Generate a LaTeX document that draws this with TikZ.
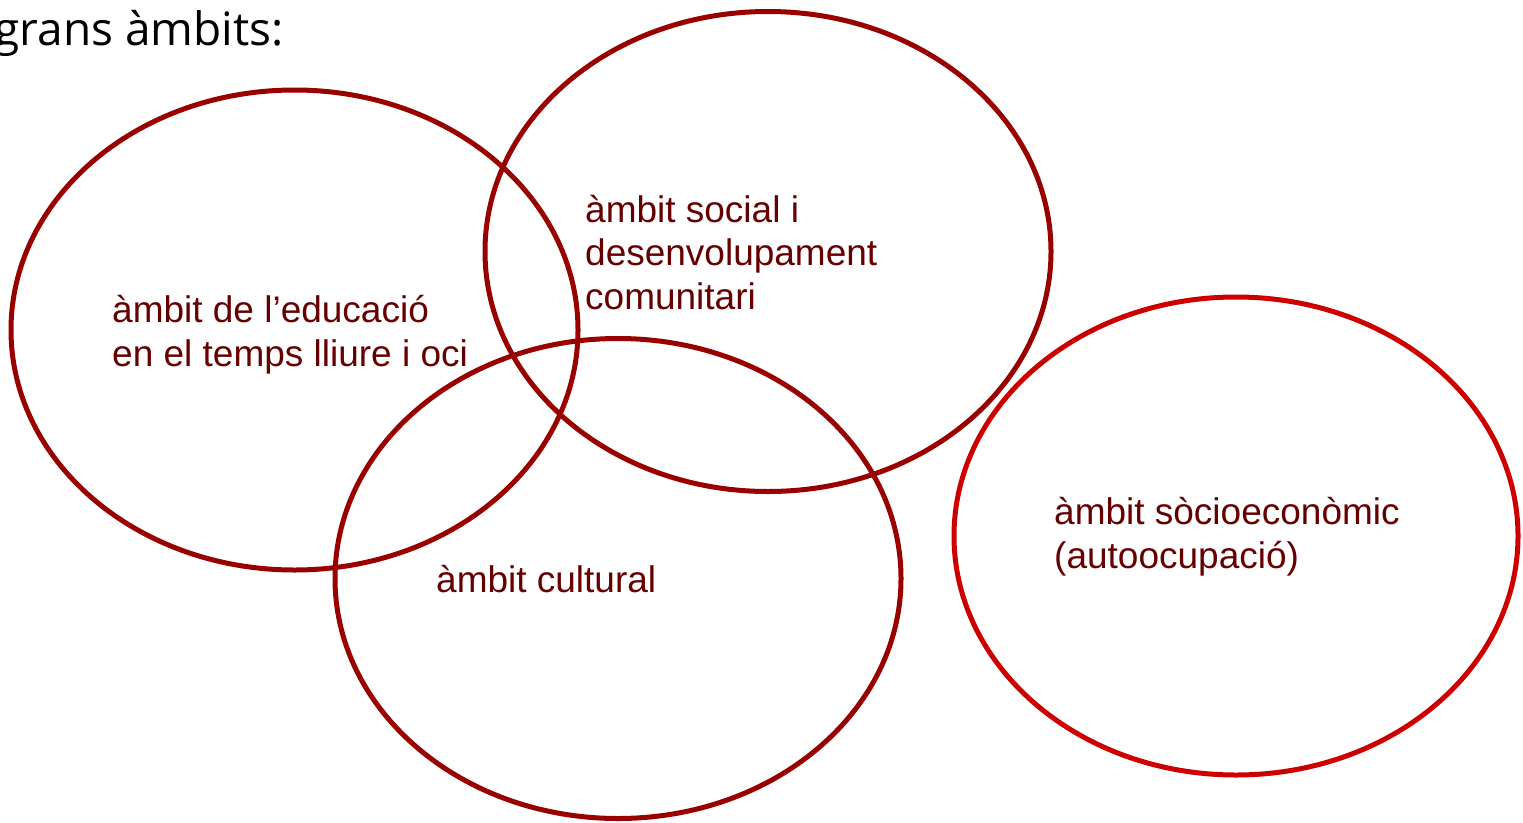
\documentclass[tikz,border=0pt]{standalone}
\usepackage{fontspec}
\setmainfont{Liberation Sans}
\newfontfamily\titlefont{Open Sans}
\definecolor{ringdark}{HTML}{990000}
\definecolor{ringbright}{HTML}{CC0000}
\definecolor{labeltext}{HTML}{660000}
\begin{document}
\begin{tikzpicture}[x=1pt,y=-1pt,
  ring/.style={line width=5pt,draw=ringdark},
  ringb/.style={line width=5pt,draw=ringbright},
  lbl/.style={text=labeltext,font=\fontsize{37}{43.5}\selectfont,align=left,inner sep=0pt,anchor=base west}]
\useasboundingbox (0,0) rectangle (1523,822);
\node[font=\titlefont\fontsize{46}{55}\selectfont,anchor=base east,inner sep=0pt] (title) at (284,45) {grans àmbits:};
\draw[ring] (294.5,330) ellipse [x radius=283.5,y radius=240];
\draw[ring] (768,251.5) ellipse [x radius=283,y radius=240];
\draw[ring] (618,578.5) ellipse [x radius=283,y radius=240];
\draw[ringb] (1236,536) ellipse [x radius=282,y radius=239];
\node[lbl] (educ) at (112,366) {àmbit de l’educació\\en el temps lliure i oci};
\node[lbl] (social) at (585,309) {àmbit social i\\desenvolupament\\comunitari};
\node[lbl] (cult) at (436,592) {àmbit cultural};
\node[lbl] (socio) at (1054,568) {àmbit sòcioeconòmic\\(autoocupació)};
\end{tikzpicture}
\end{document}
